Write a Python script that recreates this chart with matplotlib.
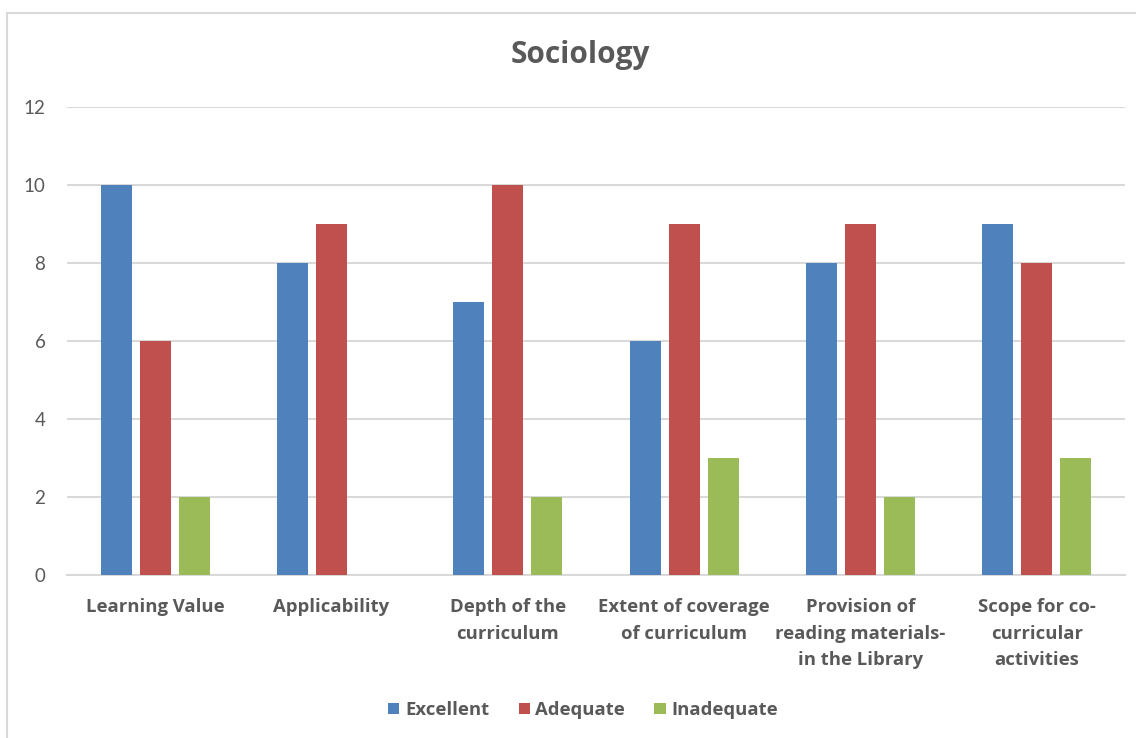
import matplotlib
matplotlib.use('Agg')
import matplotlib.pyplot as plt
import numpy as np
from matplotlib.patches import Rectangle

TEXT_GREY = '#595959'
GRID_GREY = '#D9D9D9'

categories = [
    'Learning Value',
    'Applicability',
    'Depth of the\ncurriculum',
    'Extent of coverage\nof curriculum',
    'Provision of\nreading materials-\nin the Library',
    'Scope for co-\ncurricular\nactivities',
]
series_names = ['Excellent', 'Adequate', 'Inadequate']
excellent = [10, 8, 7, 6, 8, 9]
adequate = [6, 9, 10, 9, 9, 8]
inadequate = [2, 0, 2, 3, 2, 3]
colors = ['#4F81BD', '#C0504D', '#9BBB59']

plt.rcParams['font.family'] = ['Lato', 'DejaVu Sans']
BOLD_FONT = ['Open Sans', 'DejaVu Sans']

fig = plt.figure(figsize=(11.36, 7.38), dpi=100)
ax = fig.add_axes([67 / 1136, 163 / 738, (1125 - 67) / 1136, 468 / 738])

# chart frame (top and left edges visible)
fig.patches.append(Rectangle((7 / 1136, -0.1), 1.2, (738 - 13) / 738 + 0.1,
                             transform=fig.transFigure, fill=False,
                             edgecolor=GRID_GREY, linewidth=1.5))

x = np.arange(len(categories))
width = 0.176
step = 0.221
for i, (vals, name) in enumerate(zip([excellent, adequate, inadequate], series_names)):
    ax.bar(x + (i - 1) * step, vals, width, color=colors[i], label=name, zorder=3)

ax.set_xlim(-0.5, len(categories) - 0.5)
ax.set_ylim(0, 12)
ax.set_yticks(range(0, 13, 2))
ax.yaxis.grid(True, color=GRID_GREY, linewidth=1.5, zorder=0)
ax.set_axisbelow(True)
for side in ['top', 'right', 'left']:
    ax.spines[side].set_visible(False)
ax.spines['bottom'].set_color(GRID_GREY)
ax.spines['bottom'].set_linewidth(1.5)
ax.tick_params(axis='both', length=0, colors=TEXT_GREY)
ax.tick_params(axis='y', labelsize=13.5, pad=15.5)
ax.tick_params(axis='x', pad=16.5)

ax.set_xticks(x)
ax.set_xticklabels(categories, fontsize=13.3, fontweight='bold', color=TEXT_GREY,
                   family=BOLD_FONT, linespacing=1.62, va='top')

fig.text(580 / 1136, 1 - 55 / 738, 'Sociology', ha='center', va='center',
         fontsize=21.5, fontweight='bold', color=TEXT_GREY, family=BOLD_FONT)

leg = fig.legend(loc='center', bbox_to_anchor=(583 / 1136, 1 - 710 / 738), ncol=3,
                 frameon=False, handlelength=0.6, handleheight=0.6, handletextpad=0.3,
                 columnspacing=1.6,
                 prop={'size': 13.3, 'weight': 'bold', 'family': BOLD_FONT})
for t in leg.get_texts():
    t.set_color(TEXT_GREY)

fig.savefig('out.png', dpi=100)
